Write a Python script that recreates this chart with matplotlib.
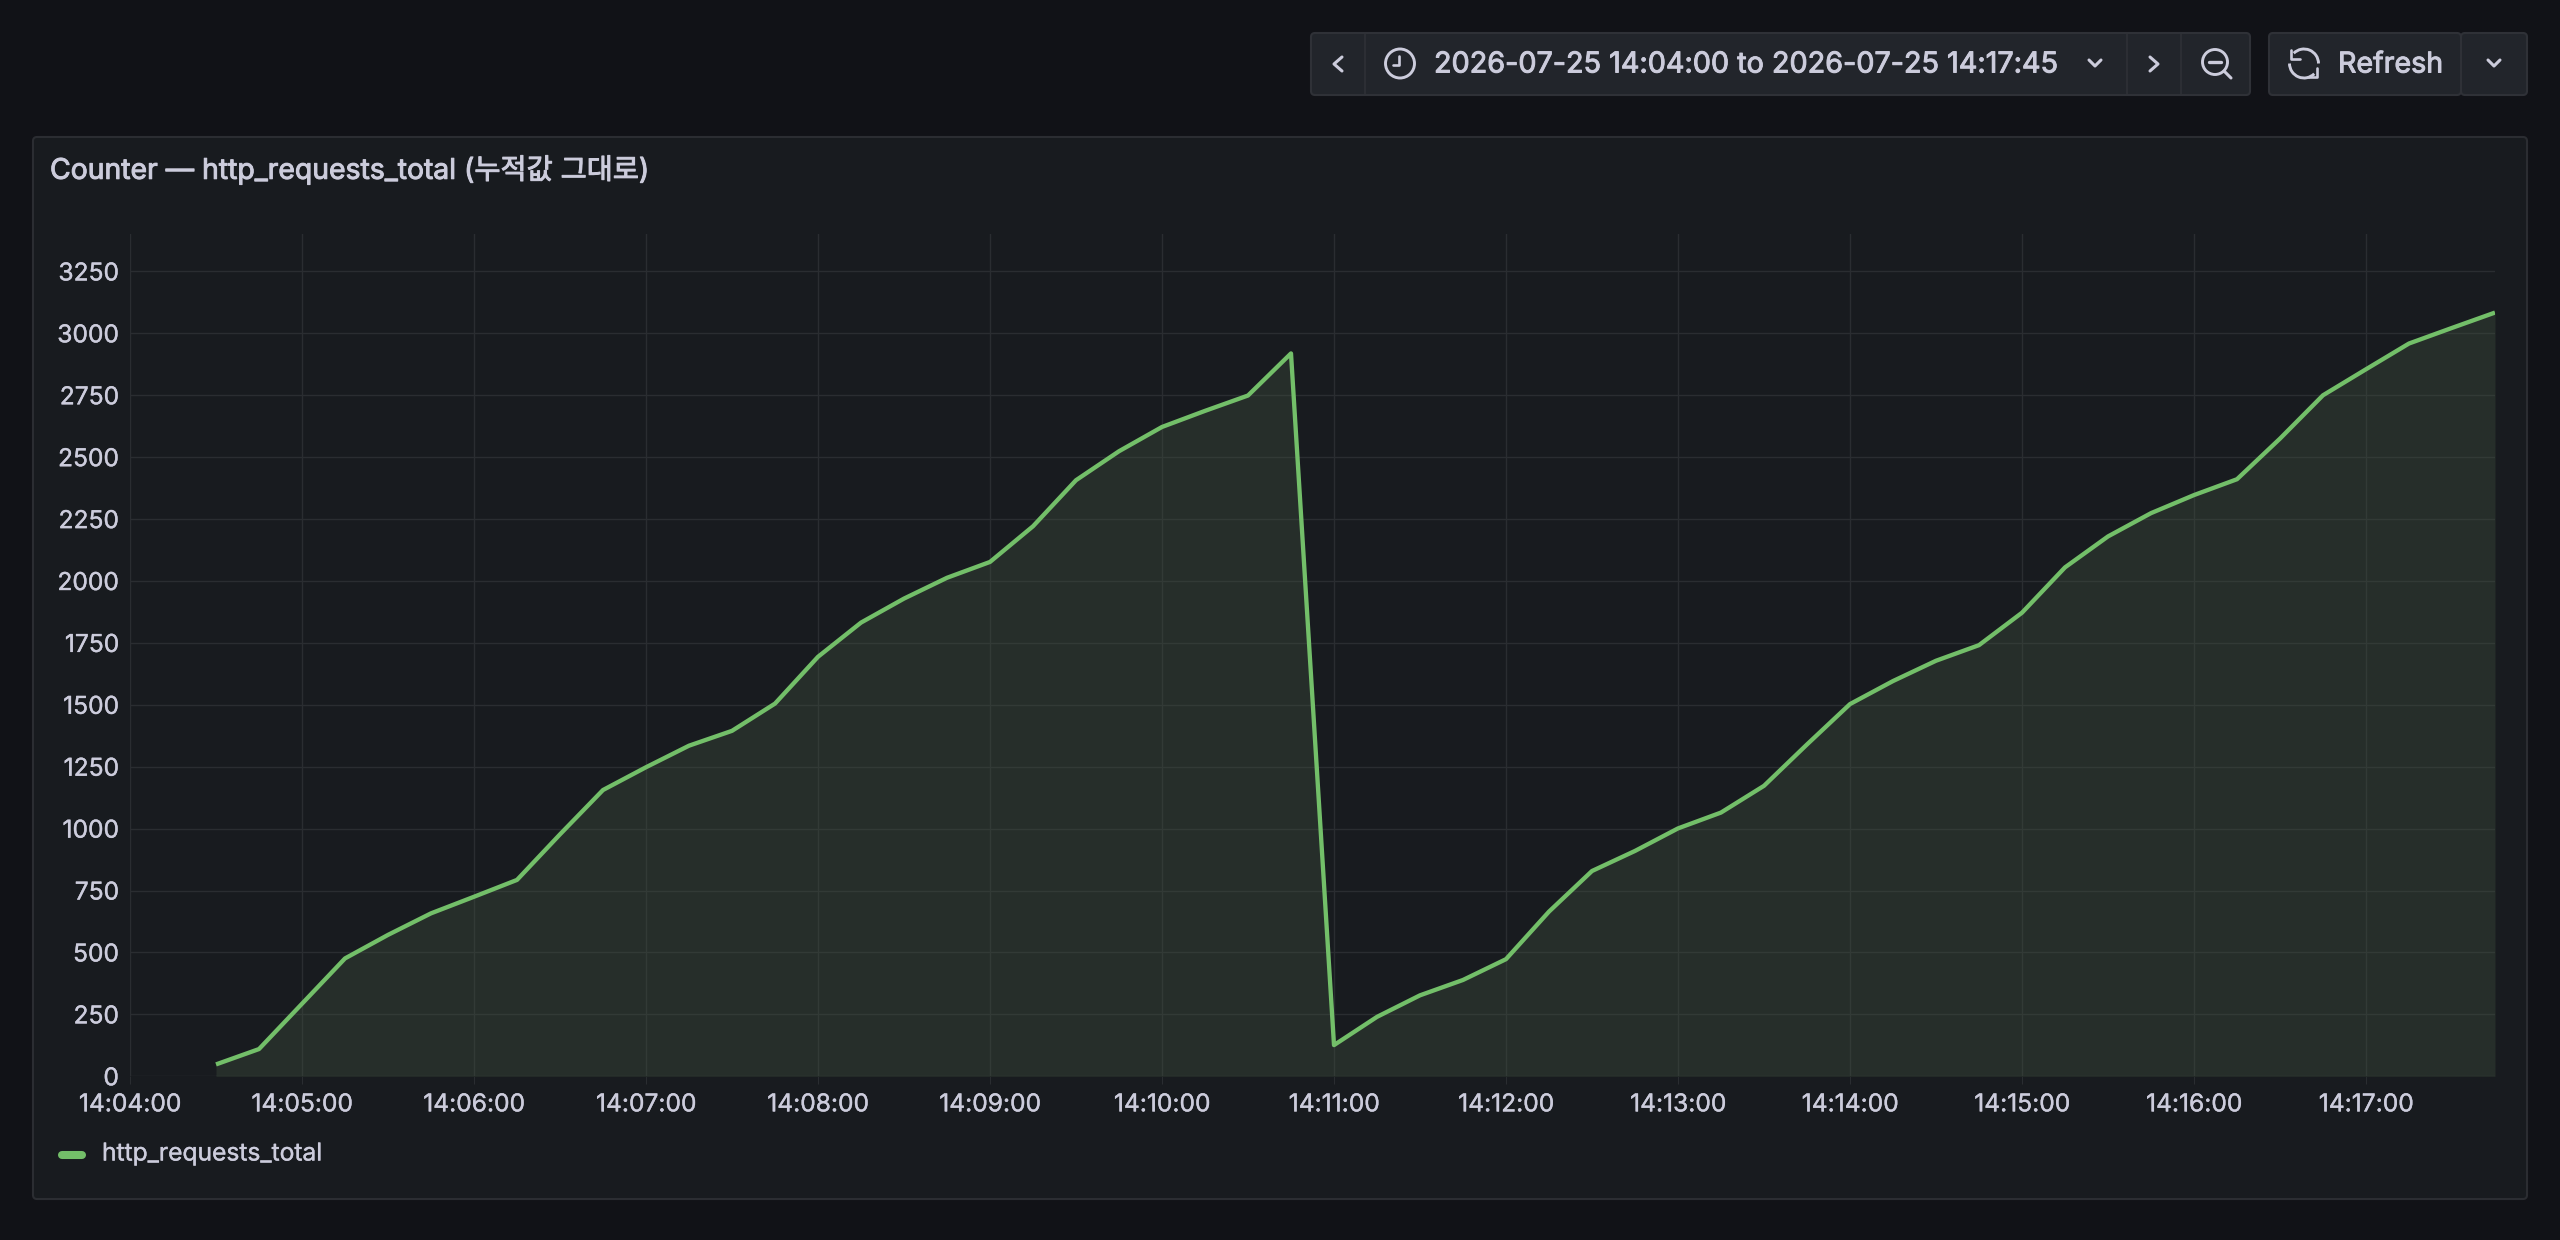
import numpy as np
import pandas as pd
import matplotlib
matplotlib.use('Agg')
import matplotlib.pyplot as plt
import matplotlib.dates as mdates
import matplotlib.patheffects as pe
from matplotlib.patches import FancyBboxPatch, Circle, Arc
from matplotlib.lines import Line2D

start_time = '2026-07-25 14:04:30'
end_time = '2026-07-25 14:17:45'
axis_start = '2026-07-25 14:04:00'

requests_total = [
    48, 110, 293, 476, 571, 658, 725, 793, 977, 1156, 1248, 1335,
    1395, 1505, 1694, 1832, 1929, 2013, 2077, 2221, 2407, 2524, 2622, 2687,
    2749, 2919, 126, 240, 327, 389, 473, 665, 829, 910, 1001, 1065,
    1173, 1340, 1503, 1596, 1678, 1741, 1872, 2055, 2180, 2274, 2347, 2411,
    2575, 2750, 2855, 2959, 3022, 3084,
]
y_ticks = list(range(0, 3251, 250))
panel_title = 'Counter — http_requests_total (누적값 그대로)'
series_name = 'http_requests_total'
range_label = '2026-07-25 14:04:00 to 2026-07-25 14:17:45'
refresh_label = 'Refresh'

BG = '#111217'
PANEL = '#181b1f'
BORDER = '#2b2d32'
BUTTON = '#22252b'
BUTTON_EDGE = '#2f3137'
TEXT = '#ccccdc'
GREEN = '#73bf69'
FILL = '#262e2a'
GRID = '#2a2d31'
GRID_ON_FILL = '#323a36'

plt.rcParams['font.family'] = ['Inter', 'Noto Sans CJK KR', 'DejaVu Sans']

W, H = 2560, 1240
fig = plt.figure(figsize=(W / 100, H / 100), dpi=100, facecolor=BG)

# overlay in pixel coordinates for the panel frame and the toolbar
ui = fig.add_axes([0, 0, 1, 1], zorder=0)
ui.set_xlim(0, W)
ui.set_ylim(H, 0)
ui.axis('off')

# Inter only comes in regular here, a thin outline gives the medium weight
medium = [pe.withStroke(linewidth=0.7, foreground=TEXT)]
light = [pe.withStroke(linewidth=0.25, foreground=TEXT)]


def box(x0, y0, x1, y1, face, edge, lw=1.5, r=4):
    ui.add_patch(FancyBboxPatch((x0, y0), x1 - x0, y1 - y0,
                                boxstyle='round,pad=0,rounding_size={}'.format(r),
                                facecolor=face, edgecolor=edge, linewidth=lw))


def stroke(xs, ys, lw=2.2):
    ui.add_line(Line2D(xs, ys, color=TEXT, linewidth=lw, solid_capstyle='round',
                       solid_joinstyle='round'))


box(33, 137, 2527, 1199, PANEL, BORDER)

# toolbar buttons
box(1311, 33, 2250, 95, BUTTON, BUTTON_EDGE)
box(2269, 33, 2461, 95, BUTTON, BUTTON_EDGE)
box(2461, 33, 2527, 95, BUTTON, BUTTON_EDGE)
for x in [1364.5, 2126.5, 2181]:
    ui.add_line(Line2D([x, x], [34, 94], color=BUTTON_EDGE, linewidth=1.2))

# chevrons
stroke([1342, 1334, 1342], [57, 64, 71])
stroke([2150, 2158, 2150], [57, 64, 71])
stroke([2089, 2095, 2101], [60, 66, 60])
stroke([2488, 2494, 2500], [60, 66, 60])

# clock icon
ui.add_patch(Circle((1400, 63.5), 14.5, fill=False, edgecolor=TEXT, linewidth=2.1))
stroke([1398.5, 1398.5, 1393], [56, 64.5, 64.5], lw=1.9)

# zoom out icon
ui.add_patch(Circle((2215, 62), 12.5, fill=False, edgecolor=TEXT, linewidth=2.1))
stroke([2209, 2221], [62, 62], lw=2.4)
stroke([2224, 2231], [71, 78])

# refresh icon, y axis is flipped here so the angles run clockwise
ui.add_patch(Arc((2304, 63.5), 29, 29, theta1=-135, theta2=0, edgecolor=TEXT, linewidth=2.1))
ui.add_patch(Arc((2304, 63.5), 29, 29, theta1=45, theta2=180, edgecolor=TEXT, linewidth=2.1))
stroke([2291, 2291, 2300], [50, 59, 59], lw=1.9)
stroke([2317, 2317, 2308], [68, 77, 77], lw=1.9)

ui.text(1434, 65, range_label, color=TEXT, fontsize=20.72, va='center', ha='left', path_effects=medium)
ui.text(2338, 65, refresh_label, color=TEXT, fontsize=20.6, va='center', ha='left', path_effects=medium)
ui.text(50, 170, panel_title, color=TEXT, fontsize=20.42, va='center', ha='left', path_effects=medium)

# legend
ui.add_line(Line2D([62, 82], [1155, 1155], color=GREEN, linewidth=5.8, solid_capstyle='round'))
ui.text(102, 1154, series_name, color=TEXT, fontsize=17.7, va='center', ha='left', path_effects=light)

# time series
times = pd.date_range(start_time, end_time, freq='15s')
ax = fig.add_axes([130 / W, 1 - 1076.3 / H, (2495 - 130) / W, (1076.3 - 234.3) / H], zorder=1)
ax.patch.set_alpha(0)
ax.set_xlim(pd.Timestamp(axis_start), pd.Timestamp(end_time))
ax.set_ylim(0, 3400)
ax.set_yticks(y_ticks)
ax.xaxis.set_major_locator(mdates.MinuteLocator())
ax.xaxis.set_major_formatter(mdates.DateFormatter('%H:%M:%S'))

ax.grid(True, color=GRID, linewidth=1.0)
ax.set_axisbelow(True)
area = ax.fill_between(times, requests_total, 0, color=FILL, linewidth=0, zorder=1)

# same grid again, a bit lighter, clipped to the filled area
for tick in y_ticks:
    ax.axhline(tick, color=GRID_ON_FILL, linewidth=1.0, zorder=2).set_clip_path(
        area.get_paths()[0], ax.transData)
for minute in pd.date_range(axis_start, end_time, freq='1min'):
    ax.axvline(minute, color=GRID_ON_FILL, linewidth=1.0, zorder=2).set_clip_path(
        area.get_paths()[0], ax.transData)

ax.plot(times, requests_total, color=GREEN, linewidth=3.1, solid_joinstyle='round',
        solid_capstyle='butt', zorder=3)

for side in ax.spines:
    ax.spines[side].set_visible(False)
ax.tick_params(axis='x', colors=TEXT, labelsize=17.7, length=5.8, width=0.8, color=GRID, pad=6.5)
ax.tick_params(axis='y', colors=TEXT, labelsize=17.7, length=0, pad=8)
for label in ax.get_xticklabels() + ax.get_yticklabels():
    label.set_path_effects(light)
for label in ax.get_yticklabels():
    label.set_verticalalignment('center_baseline')

fig.savefig('out.png', dpi=100, facecolor=BG)
